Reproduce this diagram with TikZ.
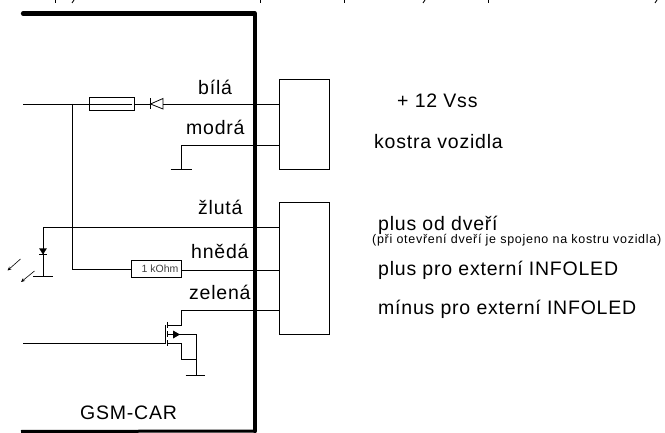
\documentclass[tikz,border=0pt]{standalone}
\usepackage{fontspec}
\setmainfont{Liberation Sans}
\newfontfamily\labfont[LetterSpace=4]{Liberation Sans}
\newfontfamily\smlfont[LetterSpace=5.7]{Liberation Sans}
\usetikzlibrary{arrows.meta}
\tikzset{
  x=1pt,y=-1pt,
  wire/.style={draw=black,line width=0.8pt},
  thick wire/.style={draw=black,line width=4.2pt,line cap=round,line join=round},
  box/.style={draw=black,line width=0.8pt,fill=white,inner sep=0,outer sep=0,minimum width=#1,rectangle},
  lab/.style={font=\labfont\fontsize{19.5}{22}\selectfont,inner sep=0,anchor=base west,text=black},
  small/.style={font=\smlfont\fontsize{12.5}{15}\selectfont,inner sep=0,anchor=base west},
  ledarrow/.style={draw=black,line width=0.6pt,-{Stealth[length=4pt,width=3.5pt]}},
  crop/.style={draw=black,line width=0.9pt},
}
\begin{document}
\begin{tikzpicture}
\useasboundingbox (0,0) rectangle (665,433);
% clipped line of text at the top edge
\foreach \xa in {55,260,344,488} {\draw[crop] (\xa,0) -- (\xa,3);}
\foreach \xa in {74,425,657} {\draw[crop] (\xa,0) -- (\xa-2,3);}
% enclosure
\coordinate (tl) at (23,13.5);
\coordinate (tr) at (255,13.5);
\coordinate (br) at (255,431);
\coordinate (bl) at (23,431);
\draw[thick wire] (tl) -- (tr) -- (br);
\draw[draw=black,line width=3pt] (21,431.5) -- (br);
% connector blocks
\node[box=50pt,minimum height=90pt] (c1) at (304.5,124) {};
\node[box=50pt,minimum height=132pt] (c2) at (304.5,268.5) {};
% white wire
\coordinate (w0) at (23,104);
\coordinate (j1) at (72.5,104);
\node[box=45pt,minimum height=12.5pt] (fuse) at (112,104) {};
\draw[wire] (fuse.west) -- ++(42,0);
\coordinate (c1a) at (279.5,104);
\coordinate (dk) at (150.5,104);
\coordinate (da) at (163,104);
\draw[wire] (w0) -- (fuse.west);
\draw[wire] (fuse.east) -- (dk);
\draw[wire] (da) -- (c1a);
\draw[wire] (150.5,98.5) -- (150.5,109);
\draw[wire] (150.5,104) -- (163,98.5) -- (163,109) -- cycle;
% blue wire
\coordinate (c1b) at (279.5,145.5);
\coordinate (g1c) at (181,145.5);
\coordinate (g1) at (181,169.5);
\draw[wire] (c1b) -- (g1c) -- (g1);
\draw[wire] (170.5,169.5) -- (191.5,169.5);
% yellow wire and LED
\coordinate (c2a) at (279.5,227);
\coordinate (ledt) at (43,227);
\coordinate (ledg) at (43,276.5);
\draw[wire] (c2a) -- (ledt) -- (ledg);
\draw[wire] (33,276.5) -- (53,276.5);
\draw[wire] (39,254.5) -- (47,254.5);
\fill[black] (39.2,248.5) -- (46.8,248.5) -- (43,254.5) -- cycle;
\coordinate (a1s) at (20.5,259);
\coordinate (a1e) at (7.5,270.5);
\coordinate (a2s) at (34.5,271);
\coordinate (a2e) at (21,282);
\draw[ledarrow] (a1s) -- (a1e);
\draw[ledarrow] (a2s) -- (a2e);
% brown wire
\node[box=50pt,minimum height=16.5pt] (res) at (156.7,269) {};
\node[font=\fontsize{10.5}{12}\selectfont,inner sep=0,text=black!75] (resl) at (160,269) {1 kOhm};
\coordinate (c2b) at (279.5,270);
\coordinate (j1b) at (72.5,269);
\draw[wire] (j1) -- (j1b) -- (res.west);
\draw[wire] (res.east |- c2b) -- (c2b);
% green wire and MOSFET
\coordinate (c2c) at (279.5,310);
\coordinate (dt) at (181,310);
\coordinate (dd) at (181,325);
\draw[wire] (c2c) -- (dt) -- (dd) -- (167.5,325);
\draw[wire] (23,343) -- (165,343) -- (165,325);
\draw[wire] (167.5,322) -- (167.5,328);
\draw[wire] (167.5,331) -- (167.5,337);
\draw[wire] (167.5,340) -- (167.5,346);
\coordinate (ss) at (196,334.5);
\coordinate (sg) at (196,375.5);
\draw[wire] (167.5,334.5) -- (ss) -- (sg);
\draw[wire] (167.5,343) -- (181,343) -- (181,359) -- (196,359);
\draw[wire] (185.5,375.5) -- (205,375.5);
\fill[black] (173,330.5) -- (180,334.5) -- (173,338.5) -- cycle;
% wire labels
\node[lab] (l1) at (198,95) {bílá};
\node[lab] (l2) at (186,135) {modrá};
\node[lab] (l3) at (198,215) {žlutá};
\node[lab] (l4) at (191,259) {hnědá};
\node[lab] (l5) at (189,300) {zelená};
\node[lab] (l6) at (80,419) {GSM-CAR};
% right labels
\node[lab] (r1) at (397,108) {+ 12 Vss};
\node[lab] (r2) at (374,149) {kostra vozidla};
\node[lab] (r3) at (378,231) {plus od dveří};
\node[small] (r4) at (372,244) {(při otevření dveří je spojeno na kostru vozidla)};
\node[lab] (r5) at (378,276) {plus pro externí INFOLED};
\node[lab] (r6) at (378,314) {mínus pro externí INFOLED};
\end{tikzpicture}
\end{document}
